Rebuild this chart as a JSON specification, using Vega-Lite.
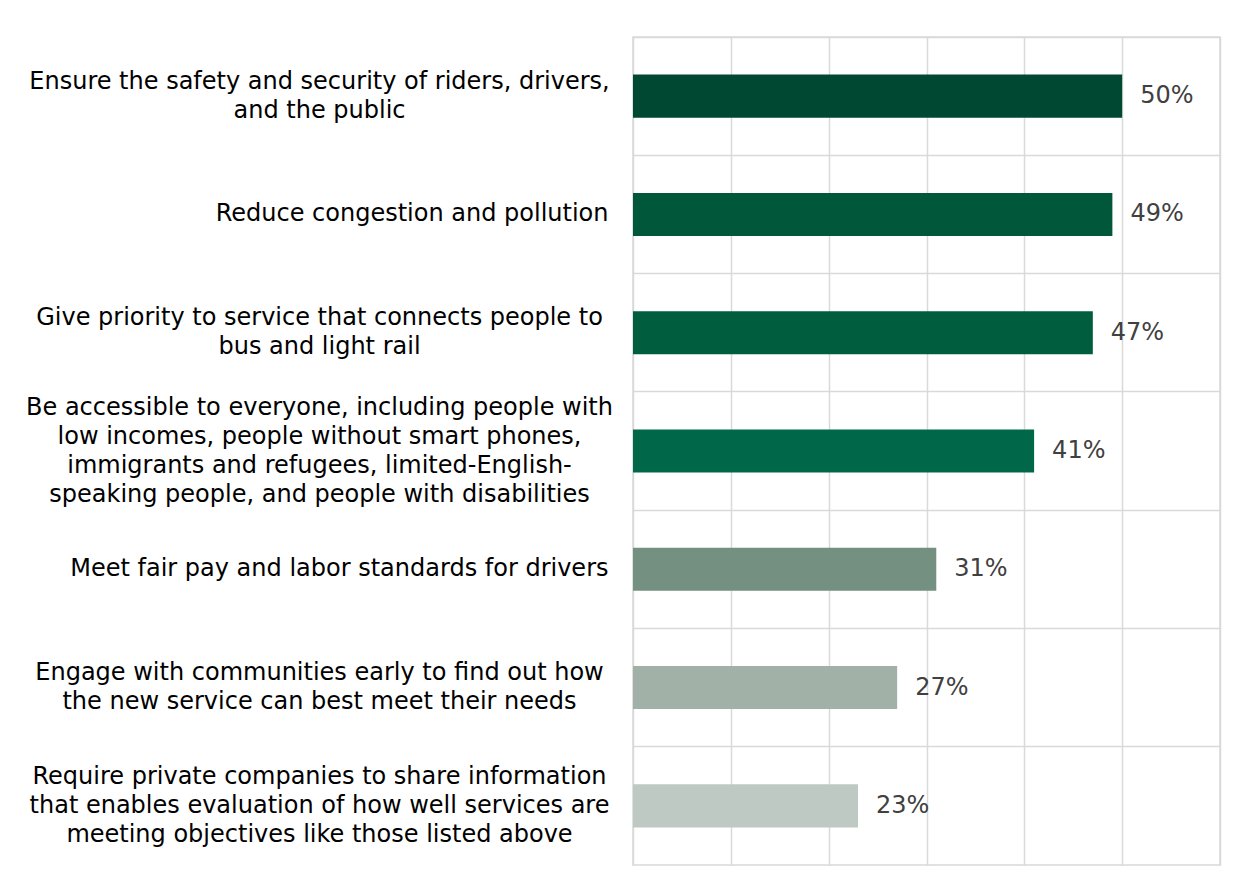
{
  "$schema": "https://vega.github.io/schema/vega-lite/v6.json",
  "width": 587,
  "height": 828,
  "autosize": {"type": "none"},
  "padding": {"left": 633, "top": 37, "right": 29, "bottom": 25},
  "background": "white",
  "config": {
    "view": {"stroke": "#d9d9d9", "strokeWidth": 1.5},
    "font": "DejaVu Sans"
  },
  "data": {
    "values": [
      {"task": "Ensure the safety and security of riders, drivers,|and the public", "pct": 0.50},
      {"task": "Reduce congestion and pollution", "pct": 0.49},
      {"task": "Give priority to service that connects people to|bus and light rail", "pct": 0.47},
      {"task": "Be accessible to everyone, including people with|low incomes, people without smart phones,|immigrants and refugees, limited-English-|speaking people, and people with disabilities", "pct": 0.41},
      {"task": "Meet fair pay and labor standards for drivers", "pct": 0.31},
      {"task": "Engage with communities early to find out how|the new service can best meet their needs", "pct": 0.27},
      {"task": "Require private companies to share information|that enables evaluation of how well services are|meeting objectives like those listed above", "pct": 0.23}
    ]
  },
  "encoding": {
    "y": {
      "field": "task",
      "type": "nominal",
      "sort": null,
      "scale": {"paddingInner": 0, "paddingOuter": 0},
      "axis": {
        "title": null,
        "ticks": false,
        "domain": false,
        "bandPosition": 0,
        "grid": true,
        "gridColor": "#d9d9d9",
        "gridWidth": 1.5,
        "labelFont": "DejaVu Sans",
        "labelFontSize": 24,
        "labelColor": "#000000",
        "labelLineHeight": 29,
        "labelLimit": 700,
        "labelBaseline": "middle",
        "labelExpr": "split(datum.label, '|')",
        "labelAlign": {
          "condition": {"test": "indexof(datum.value, '|') >= 0", "value": "center"},
          "value": "right"
        },
        "labelPadding": {
          "condition": {"test": "indexof(datum.value, '|') >= 0", "value": 314},
          "value": 25
        },
        "labelOffset": {
          "condition": [
            {"test": "length(split(datum.value, '|')) == 4", "value": -43.5},
            {"test": "length(split(datum.value, '|')) == 3", "value": -29},
            {"test": "length(split(datum.value, '|')) == 2", "value": -14.5}
          ],
          "value": 0
        }
      }
    },
    "x": {
      "field": "pct",
      "type": "quantitative",
      "scale": {"domain": [0, 0.6], "nice": false},
      "axis": {
        "title": null,
        "labels": false,
        "ticks": false,
        "domain": false,
        "values": [0, 0.1, 0.2, 0.3, 0.4, 0.5, 0.6],
        "grid": true,
        "gridColor": "#d9d9d9",
        "gridWidth": 1.5
      }
    }
  },
  "layer": [
    {
      "mark": {"type": "bar", "height": {"band": 0.364}},
      "encoding": {
        "color": {
          "field": "task",
          "type": "nominal",
          "sort": null,
          "legend": null,
          "scale": {"range": ["#004831", "#00573a", "#005e3f", "#006848", "#739080", "#a1b1a7", "#bfc9c4"]}
        }
      }
    },
    {
      "mark": {"type": "text", "align": "left", "baseline": "middle", "dx": 18, "fontSize": 24, "color": "#404040", "font": "DejaVu Sans"},
      "encoding": {
        "text": {"field": "pct", "type": "quantitative", "format": ".0%"}
      }
    }
  ]
}
